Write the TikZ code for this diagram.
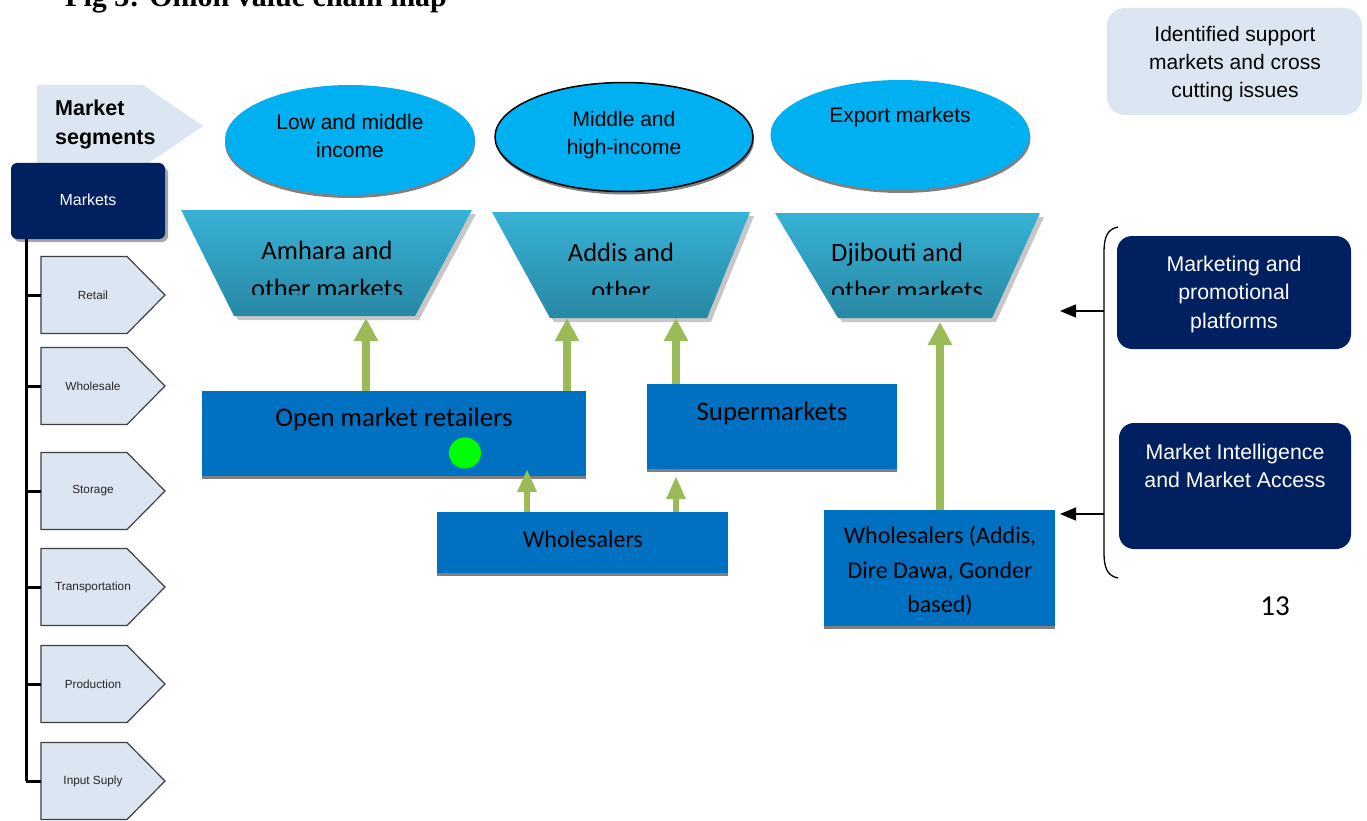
\documentclass[tikz,border=0pt]{standalone}
\usepackage{fontspec}
\setmainfont{Liberation Sans}
\newfontfamily\calfont{Carlito}
\newfontfamily\titlefont{Liberation Serif}
\usetikzlibrary{arrows.meta,shapes.geometric}
\definecolor{navy}{RGB}{0,32,96}
\definecolor{paleblue}{RGB}{220,230,242}
\definecolor{cyanell}{RGB}{0,176,240}
\definecolor{boxblue}{RGB}{0,112,192}
\definecolor{agreen}{RGB}{155,187,89}
\definecolor{trtop}{RGB}{55,178,214}
\definecolor{trbot}{RGB}{40,136,164}
\newcommand\myfs[2]{\fontsize{#1}{#2}\selectfont}
\tikzset{
  txt/.style={inner sep=0pt, align=center},
  ell/.style={ellipse, fill=cyanell, inner sep=0pt, minimum width=250pt, minimum height=110pt},
  ellsh/.style={ellipse, fill=black!50, inner sep=0pt, minimum width=250pt, minimum height=110pt},
  bbox/.style={rectangle, fill=boxblue, inner sep=0pt},
  darkbox/.style={rectangle, rounded corners=15pt, fill=navy, inner sep=0pt},
  pent/.style={fill=paleblue, draw=black!75, line width=1.2pt},
  bigarrow/.style={agreen, line width=8pt, -{Triangle[width=23pt,length=23pt]}},
  smallarrow/.style={agreen, line width=6pt, -{Triangle[width=18pt,length=23pt]}},
  blackarrow/.style={black, line width=1.5pt, -{Triangle[width=13pt,length=16pt]}},
  spine/.style={black, line width=3pt},
  trap/.style={top color=trtop, bottom color=trbot},
  trapsh/.style={fill=black!22},
}
\begin{document}
\begin{tikzpicture}[x=1pt,y=-1pt]
\useasboundingbox (0,0) rectangle (1367,821);
\clip (0,0) rectangle (1367,821);

% title (cut by the top edge in the reference)
\node[anchor=base west, inner sep=0pt, font=\titlefont\bfseries\myfs{30}{34}] (title) at (65,7) {Fig 3: Onion value chain map};

% Market segments arrow
\fill[paleblue] (37,85) -- (143,85) -- (203,126) -- (143,167) -- (37,167) -- cycle;
\node[anchor=west, inner sep=0pt, align=left, font=\bfseries\myfs{21.5}{29}] (ms) at (55,124) {Market\\segments};

% Markets box
\fill[black!35, rounded corners=6pt] (14,167) rectangle (168,242);
\node[bbox, fill=navy, rounded corners=6pt, minimum width=154pt, minimum height=76pt] (markets) at (88,201) {};
\node[txt, text=white, font=\myfs{16}{18}] (marketst) at (88,200) {Markets};

% spine
\coordinate (spinebot) at (26,781);
\draw[spine] (markets.south -| spinebot) -- (spinebot);

% pentagons
\foreach \yy/\nm/\lab in {295/p1/Retail, 386/p2/Wholesale, 491/p3/Storage, 587/p4/Transportation, 684/p5/Production, 781/p6/Input Suply}{
  \draw[pent] (41,\yy-38.5) -- (127,\yy-38.5) -- (165,\yy) -- (127,\yy+38.5) -- (41,\yy+38.5) -- cycle;
  \coordinate (\nm w) at (41,\yy);
  \coordinate (\nm s) at (26,\yy);
  \draw[spine] (\nm s) -- (\nm w);
  \node[txt, font=\myfs{11.8}{14}, text=black!85] (\nm) at (93,\yy) {\lab};
}

% ellipses
\node[ellsh] (e1s) at (350,143) {};
\node[ell] (e1) at (350,140) {};
\node[txt, font=\myfs{21}{28}] (e1t) at (350,136) {Low and middle\\income};

\node[ellsh, minimum width=258pt, minimum height=109pt] (e2s) at (625,140) {};
\node[ell, draw=black, line width=1.5pt, minimum width=258pt, minimum height=109pt] (e2) at (624,137) {};
\node[txt, font=\myfs{21}{28}] (e2t) at (624,135) {Middle and\\high-income};

\node[ellsh, minimum width=259pt] (e3s) at (901,138) {};
\node[ell, minimum width=259pt] (e3) at (900,135) {};
\node[txt, font=\myfs{21}{28}] (e3t) at (900,117) {Export markets};

% trapezoids
\fill[trapsh] (185,214) -- (476,214) -- (419,320) -- (238,320) -- cycle;
\shade[trap] (181,210) -- (472,210) -- (415,316) -- (234,316) -- cycle;
\fill[trapsh] (496,216) -- (754,216) -- (711,322) -- (554,322) -- cycle;
\shade[trap] (492,212) -- (750,212) -- (707,318) -- (550,318) -- cycle;
\fill[trapsh] (779,217) -- (1044,217) -- (996,322) -- (842,322) -- cycle;
\shade[trap] (775,213) -- (1040,213) -- (992,318) -- (838,318) -- cycle;
\coordinate (t1b) at (366,318);
\coordinate (t2b) at (567,318);
\coordinate (t2c) at (676,318);
\coordinate (t3b) at (940,322);
\begin{scope}
\clip (0,0) rectangle (1367,294);
\node[txt, font=\calfont\myfs{26.5}{38}] (t1t) at (327,269) {Amhara and\\other markets};
\node[txt, font=\calfont\myfs{26.5}{38}] (t2t) at (621,271) {Addis and\\other};
\node[txt, anchor=west, align=left, font=\calfont\myfs{26.5}{38}] (t3t) at (831,271) {Djibouti and\\other markets};
\end{scope}

% blue boxes
\node[bbox, minimum width=384pt, minimum height=86pt] (omr) at (394,434) {};
\draw[black!50, line width=3pt] (omr.south west) -- (omr.south east);
\node[txt, font=\calfont\myfs{26.8}{30}] (omrt) at (394,419) {Open market retailers};
\node[ellipse, fill=green, inner sep=0pt, minimum width=32pt, minimum height=31pt] (dot) at (465,453) {};

\node[bbox, minimum width=250pt, minimum height=86pt] (sup) at (772,427) {};
\draw[black!50, line width=3pt] (sup.south west) -- (sup.south east);
\node[txt, font=\calfont\myfs{26.8}{30}] (supt) at (772,413) {Supermarkets};

\node[bbox, minimum width=291pt, minimum height=62pt] (wh1) at (582.5,543) {};
\draw[black!50, line width=3pt] (wh1.south west) -- (wh1.south east);
\node[txt, font=\calfont\myfs{24}{28}] (wh1t) at (583,539) {Wholesalers};

\node[bbox, minimum width=231pt, minimum height=117pt] (wh2) at (939.5,568.5) {};
\draw[black!50, line width=3pt] (wh2.south west) -- (wh2.south east);
\node[txt, font=\calfont\myfs{24}{34.5}] (wh2t) at (940,571) {Wholesalers (Addis,\\Dire Dawa, Gonder\\based)};

% green arrows
\draw[bigarrow] (omr.north -| t1b) -- (t1b);
\draw[bigarrow] (omr.north -| t2b) -- (t2b);
\draw[bigarrow] (sup.north -| t2c) -- (t2c);
\coordinate (omrin) at (527,469);
\coordinate (supin) at (676,476);
\draw[smallarrow] (wh1.north -| omrin) -- (omrin);
\draw[smallarrow] (wh1.north -| supin) -- (supin);
\draw[bigarrow] (wh2.north -| t3b) -- (t3b);

% right side
\node[rectangle, rounded corners=18pt, fill=paleblue, inner sep=0pt, minimum width=255pt, minimum height=107pt] (idbox) at (1234.5,61.5) {};
\node[txt, font=\myfs{21}{28}] (idt) at (1235,64) {Identified support\\markets and cross\\cutting issues};

\node[darkbox, minimum width=234pt, minimum height=113pt] (mk) at (1234,292.5) {};
\node[txt, text=white, font=\myfs{21.3}{28.5}] (mkt) at (1234,294) {Marketing and\\promotional\\platforms};

\node[darkbox, minimum width=232pt, minimum height=126pt] (mi) at (1235,486) {};
\node[txt, text=white, font=\myfs{21.3}{28}] (mit) at (1235,466) {Market Intelligence\\and Market Access};

% brace
\draw[black, line width=1.3pt] (1118,227) .. controls (1107,229) and (1104,238) .. (1104,252) -- (1104,553) .. controls (1104,567) and (1107,576) .. (1118,578);
\coordinate (br1) at (1104,311);
\coordinate (br2) at (1104,514);
\coordinate (a1e) at (1060,311);
\coordinate (a2e) at (1060,514);
\draw[blackarrow] (br1) -- (a1e);
\draw[blackarrow] (br2) -- (a2e);

\node[txt, font=\calfont\myfs{29}{32}] (pg) at (1275,606) {13};
\end{tikzpicture}
\end{document}
